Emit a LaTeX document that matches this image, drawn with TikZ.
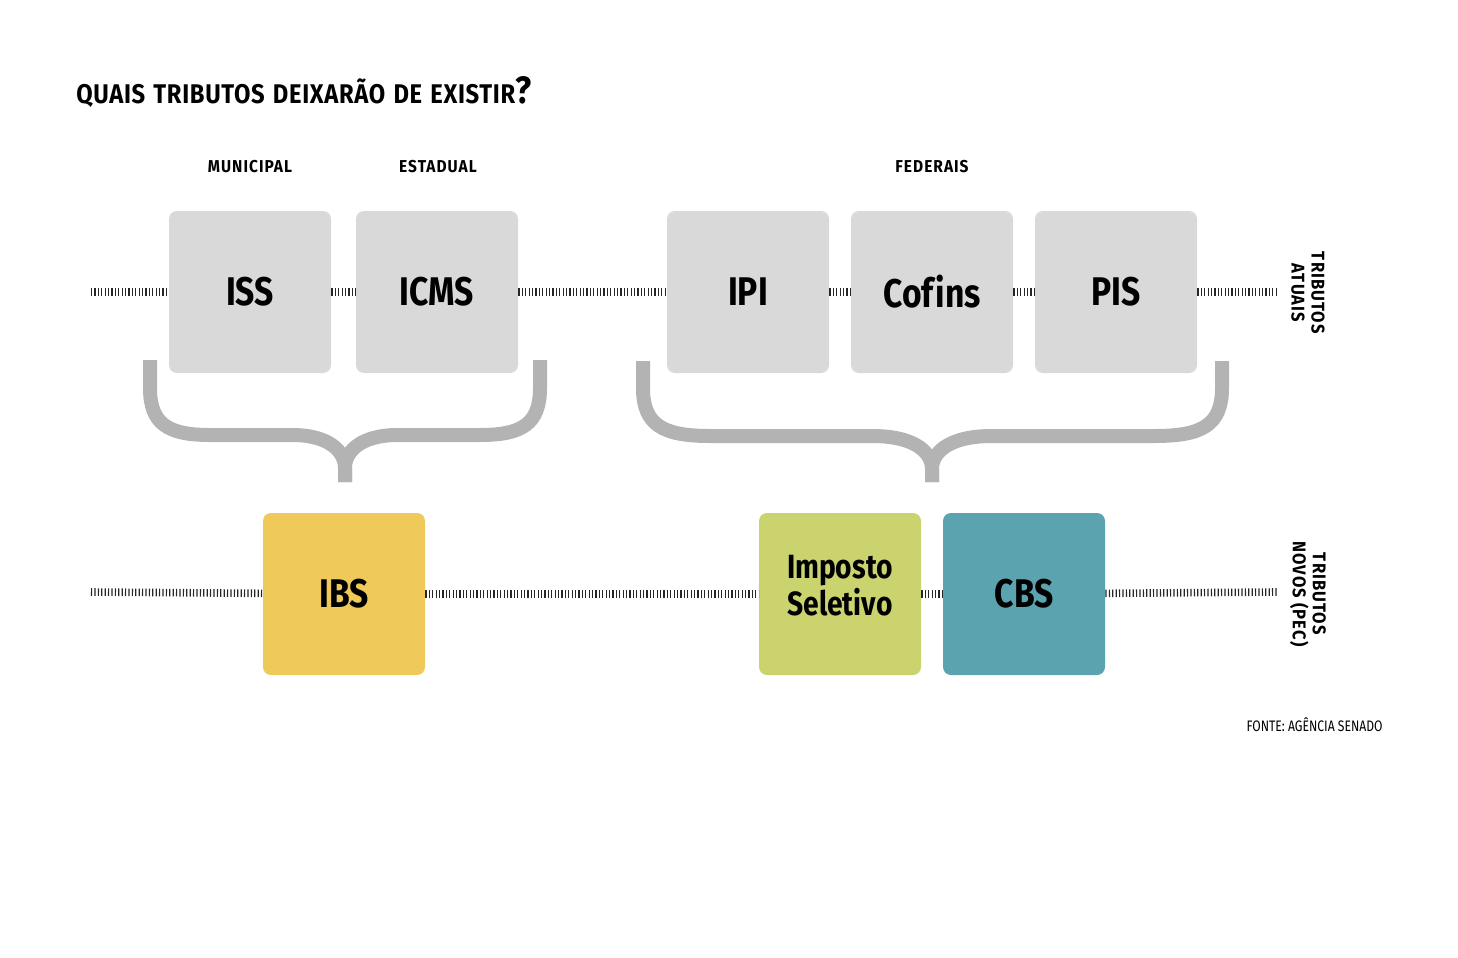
\documentclass[tikz,border=0pt]{standalone}
\usepackage{fontspec}
\usepackage{xcolor}
\setmainfont{Fira Sans}[FakeStretch=0.84]
\newfontfamily\titlefont{Fira Sans}[FakeStretch=0.88,LetterSpace=2.5,WordSpace=1.3]
\newfontfamily\headfont{Fira Sans}[FakeStretch=0.9,LetterSpace=6]
\newfontfamily\notefont{Fira Sans}[FakeStretch=0.8]
\definecolor{boxgray}{HTML}{D9D9D9}
\definecolor{bracegray}{HTML}{B3B3B3}
\definecolor{ibsyellow}{HTML}{EFC95A}
\definecolor{isgreen}{HTML}{CBD36F}
\definecolor{cbsblue}{HTML}{5CA3B0}

\begin{document}
\begin{tikzpicture}[x=0.5pt,y=-0.5pt,
  tributo/.style={rectangle,rounded corners=4pt,minimum width=81pt,minimum height=81pt,
    inner sep=0pt,align=center,font=\bfseries\fontsize{20}{22}\selectfont},
  ticks/.style={line width=3.8pt,draw=black!85,dash pattern=on 0.6pt off 1.1pt},
  chave/.style={line width=7pt,draw=bracegray,line cap=butt},
  cabeca/.style={font=\headfont\bfseries\fontsize{8.6}{10}\selectfont,anchor=base},
  lado/.style={rotate=-90,align=center,font=\headfont\bfseries\fontsize{9.2}{10}\selectfont}]
\useasboundingbox (0,0) rectangle (1458,958);
% title and heads
\node[anchor=base west,inner sep=0pt,font=\titlefont\bfseries\fontsize{13.5}{15}\selectfont] (titulo) at (76,103)
  {QUAIS TRIBUTOS DEIXARÃO DE EXISTIR{\fontsize{19}{20}\selectfont ?}};
\node[cabeca] (municipal) at (250,172) {MUNICIPAL};
\node[cabeca] (estadual) at (438,172) {ESTADUAL};
\node[cabeca] (federais) at (932,172) {FEDERAIS};
% current taxes
\coordinate (a0) at (91,292);
\coordinate (a1) at (1277,292);
\node[tributo,fill=boxgray] (iss) at (250,292) {ISS};
\node[tributo,fill=boxgray] (icms) at (437,292) {ICMS};
\node[tributo,fill=boxgray] (ipi) at (748,292) {IPI};
\node[tributo,fill=boxgray] (cofins) at (932,292) {\addfontfeature{Ligatures=NoCommon}Cof\kern1pt ins};
\node[tributo,fill=boxgray] (pis) at (1116,292) {PIS};
\draw[ticks] (a0) -- (iss);
\draw[ticks] (iss) -- (icms);
\draw[ticks] (icms) -- (ipi);
\draw[ticks] (ipi) -- (cofins);
\draw[ticks] (cofins) -- (pis);
\draw[ticks] (pis) -- (a1);
% new taxes
\coordinate (b0) at (91,592);
\coordinate (b1) at (1277,592);
\node[tributo,fill=ibsyellow] (ibs) at (344,594) {IBS};
\node[tributo,fill=isgreen,text depth=8.4pt,
  font=\bfseries\fontsize{16.8}{16.5}\selectfont] (seletivo) at (840,594) {Imposto\\Seletivo};
\node[tributo,fill=cbsblue] (cbs) at (1024,594) {CBS};
\draw[ticks] (b0) -- (ibs);
\draw[ticks] (ibs) -- (seletivo);
\draw[ticks] (seletivo) -- (cbs);
\draw[ticks] (cbs) -- (b1);
% braces
\draw[chave] (150,360) -- (150,388) .. controls (150,424) and (168,435) .. (210,435) -- (292,435)
  .. controls (330,435) and (345,452) .. (345,468) -- (345,482);
\draw[chave] (540,360) -- (540,388) .. controls (540,424) and (522,435) .. (480,435) -- (398,435)
  .. controls (360,435) and (345,452) .. (345,468) -- (345,482);
\draw[chave] (643,361) -- (643,388) .. controls (643,425) and (663,436) .. (710,436) -- (872,436)
  .. controls (916,436) and (932,453) .. (932,469) -- (932,482);
\draw[chave] (1222,361) -- (1222,388) .. controls (1222,425) and (1202,436) .. (1155,436) -- (992,436)
  .. controls (948,436) and (932,453) .. (932,469) -- (932,482);
% side labels
\node[lado] (atuais) at (1308,293) {TRIBUTOS\\ATUAIS};
\node[lado] (novos) at (1308,594) {TRIBUTOS\\NOVOS (PEC)};
\node[anchor=base east,inner sep=0pt,font=\notefont\fontsize{7.6}{9}\selectfont] (fonte) at (1383,731) {FONTE: AGÊNCIA SENADO};
\end{tikzpicture}
\end{document}
